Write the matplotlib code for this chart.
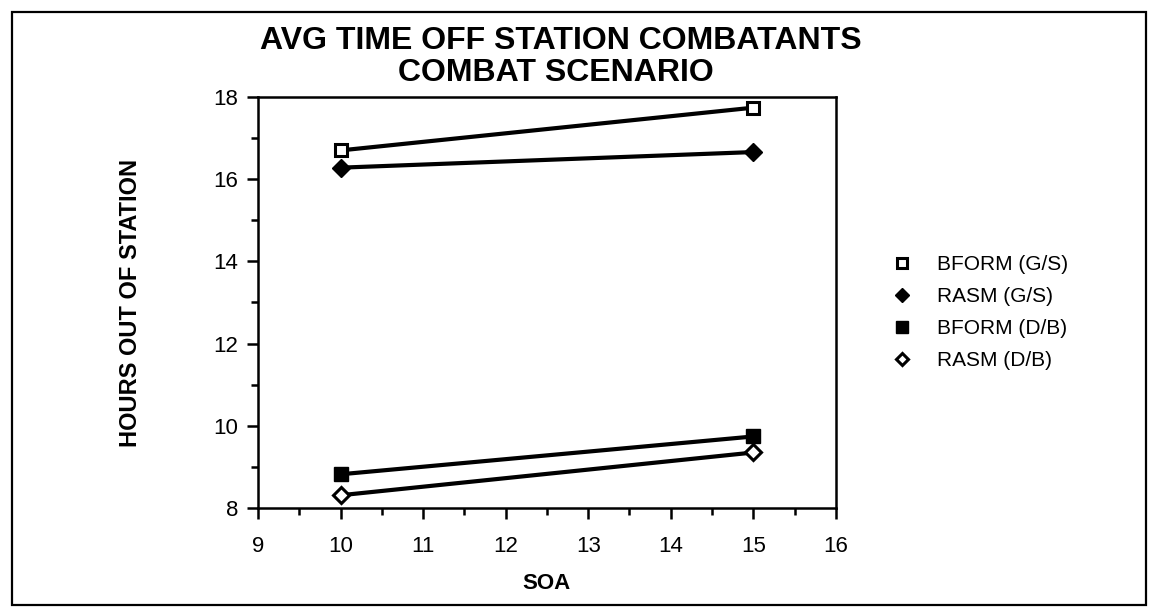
import matplotlib
matplotlib.use('Agg')
import matplotlib.pyplot as plt
from matplotlib.patches import Rectangle
from matplotlib.ticker import MultipleLocator

plt.rcParams['font.family'] = ['Liberation Sans', 'DejaVu Sans']

# data
soa = [10, 15]
bform_gs = [16.70, 17.74]
rasm_gs = [16.28, 16.66]
bform_db = [8.82, 9.74]
rasm_db = [8.31, 9.35]

series_labels = ['BFORM (G/S)', 'RASM (G/S)', 'BFORM (D/B)', 'RASM (D/B)']
x_ticks = [9, 10, 11, 12, 13, 14, 15, 16]
y_ticks = [8, 10, 12, 14, 16, 18]

fig = plt.figure(figsize=(11.51, 6.08), dpi=100)
ax = fig.add_axes([0.2242, 0.1645, 0.5020, 0.6760])

# figure frame
fig.patches.append(Rectangle((0.0105, 0.005), 0.9850, 0.9755, transform=fig.transFigure,
                             fill=False, edgecolor='black', linewidth=1.6))

lw = 3.0
ax.plot(soa, bform_gs, color='black', lw=lw, marker='s', ms=9, mfc='white', mec='black',
        mew=2.2, label=series_labels[0])
ax.plot(soa, rasm_gs, color='black', lw=lw, marker='D', ms=9, mfc='black', mec='black',
        label=series_labels[1])
ax.plot(soa, bform_db, color='black', lw=lw, marker='s', ms=10, mfc='black', mec='black',
        label=series_labels[2])
ax.plot(soa, rasm_db, color='black', lw=lw, marker='D', ms=8, mfc='white', mec='black',
        mew=2.2, label=series_labels[3])

ax.set_xlim(9, 16)
ax.set_ylim(8, 18)
ax.set_xticks(x_ticks)
ax.set_yticks(y_ticks)
ax.xaxis.set_minor_locator(MultipleLocator(0.5))
ax.yaxis.set_minor_locator(MultipleLocator(1))
ax.tick_params(axis='both', which='major', direction='out', length=8, width=1.8,
               labelsize=16, top=False, right=False)
ax.tick_params(axis='both', which='minor', direction='out', length=5, width=1.8,
               top=False, right=False)
ax.tick_params(axis='x', which='major', pad=12)
ax.tick_params(axis='y', which='major', pad=6)
for s in ax.spines.values():
    s.set_linewidth(1.8)

ax.set_xlabel('SOA', fontsize=16, fontweight='bold', labelpad=12)
ax.set_ylabel('HOURS OUT OF STATION', fontsize=17, fontweight='bold', labelpad=52)

fig.text(0.487, 0.933, 'AVG TIME OFF STATION COMBATANTS', ha='center', va='center',
         fontsize=23, fontweight='bold')
fig.text(0.483, 0.880, 'COMBAT SCENARIO', ha='center', va='center',
         fontsize=23, fontweight='bold')

leg = ax.legend(loc='center left', bbox_to_anchor=(0.760, 0.486), bbox_transform=fig.transFigure,
                frameon=False, fontsize=15, handlelength=0.8, handletextpad=1.3,
                labelspacing=0.62, markerscale=0.8)
for h in leg.legend_handles:
    h.set_linestyle('None')

fig.savefig('out.png', dpi=100)
